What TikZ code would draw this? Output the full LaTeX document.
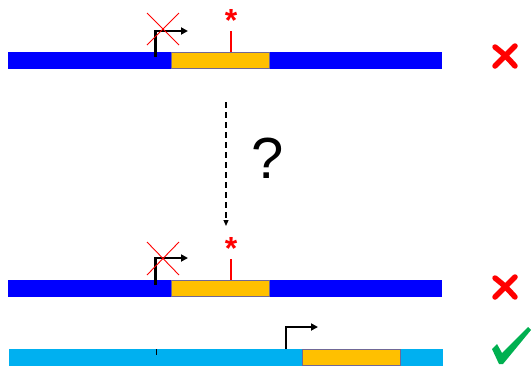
\documentclass[tikz,border=0pt]{standalone}
\usepackage{fontspec}
\setmainfont{Liberation Sans}
\usetikzlibrary{arrows.meta,positioning}

\definecolor{chromblue}{RGB}{0,0,255}
\definecolor{chromcyan}{RGB}{0,176,240}
\definecolor{geneorange}{RGB}{255,192,0}
\definecolor{geneedge}{RGB}{112,104,150}
\definecolor{okgreen}{RGB}{0,176,80}

\begin{document}
\begin{tikzpicture}
    [
        x=1pt,y=-1pt,
        Chrom/.style={rectangle,anchor=west,minimum width=434pt,minimum height=17pt,inner sep=0pt},
        Gene/.style={rectangle,anchor=west,fill=geneorange,draw=geneedge,line width=0.8pt,minimum width=98pt,minimum height=16pt,inner sep=0pt},
        Promoter/.style={black,line width=2.3pt,-{Triangle[length=7pt,width=7pt]}},
        Knockout/.style={red,line width=0.9pt},
        Mutation/.style={red,line width=2pt},
        Star/.style={text=red,font=\fontsize{32}{32}\selectfont\bfseries,inner sep=0pt},
        Fail/.style={red,line width=5.5pt,line cap=round}
    ]
    \useasboundingbox (0,0) rectangle (531,367);

    % chromosomes
    \node[Chrom,fill=chromblue] (chromA) at (8,60)  {};
    \node[Chrom,fill=chromblue] (chromB) at (8,288) {};
    \node[Chrom,fill=chromcyan] (chromC) at (9,357.5) {};

    % genes
    \node[Gene] (geneA) at (171,60)  {};
    \node[Gene] (geneB) at (171,288) {};
    \node[Gene] (geneC) at (302,357.5) {};

    % promoters
    \coordinate (tssA) at (155.5,57);
    \coordinate (tssAend) at (188,31);
    \draw[Promoter] (tssA) |- (tssAend);
    \coordinate (tssB) at (155.5,285);
    \coordinate (tssBend) at (188,258);
    \draw[Promoter] (tssB) |- (tssBend);
    \coordinate (tssC) at (286,349);
    \coordinate (tssCend) at (318,327);
    \draw[Promoter] (tssC) |- (tssCend);
    \coordinate (oldtss) at (156,349);
    \draw[black,line width=1pt] (oldtss) -- ++(0,6);

    % knocked out promoters
    \draw[Knockout] (147,13) -- (179,45) (147,45) -- (179,13);
    \draw[Knockout] (147,242) -- (179,275) (147,275) -- (179,242);

    % point mutations
    \coordinate (mutA) at (231,51.5);
    \node[Star] (starA) at (231,20) {*};
    \draw[Mutation] (mutA) -- ++(0,-21);
    \coordinate (mutB) at (231,279.5);
    \node[Star] (starB) at (231,248) {*};
    \draw[Mutation] (mutB) -- ++(0,-21);

    % transition
    \coordinate (fromA) at (226,102);
    \coordinate (toB) at (226,226);
    \draw[black,line width=1.2pt,dash pattern=on 6pt off 4pt,-{Triangle[length=6pt,width=5pt]}] (fromA) -- (toB);
    \node[font=\fontsize{58}{58}\selectfont] (query) at (268,158) {?};

    % outcomes
    \coordinate (failA) at (505,56);
    \draw[Fail] ([shift={(-10,-9)}]failA) .. controls ([shift={(0,-1)}]failA) .. ([shift={(10,10)}]failA);
    \draw[Fail] ([shift={(10,-10)}]failA) .. controls ([shift={(-1,1)}]failA) .. ([shift={(-10,10)}]failA);
    \coordinate (failB) at (505,287);
    \draw[Fail] ([shift={(-10,-9)}]failB) .. controls ([shift={(0,-1)}]failB) .. ([shift={(10,10)}]failB);
    \draw[Fail] ([shift={(10,-10)}]failB) .. controls ([shift={(-1,1)}]failB) .. ([shift={(-10,10)}]failB);
    \fill[okgreen] (492,349) -- (497,344) -- (502,353) -- (528,327) -- (531,330) -- (503,364) -- (499,364) -- cycle;
\end{tikzpicture}
\end{document}
